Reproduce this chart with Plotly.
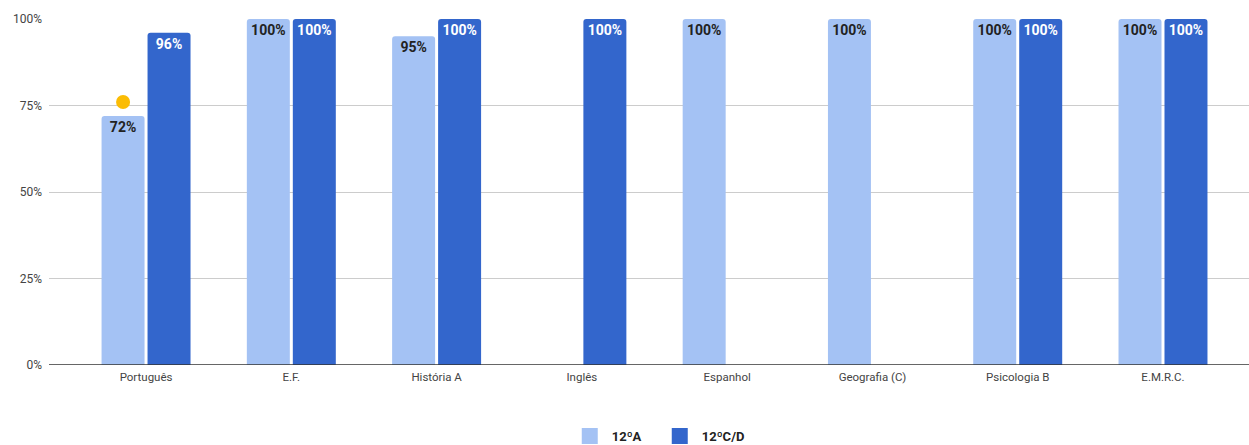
import plotly.graph_objects as go

categories = ["Português", "E.F.", "História A", "Inglês", "Espanhol", "Geografia (C)", "Psicologia B", "E.M.R.C."]
serie_a = [0.72, 1.00, 0.95, None, 1.00, 1.00, 1.00, 1.00]
serie_cd = [0.96, 1.00, 1.00, 1.00, None, None, 1.00, 1.00]
series_names = ["12ºA", "12ºC/D"]
series_colors = ["#a4c2f4", "#3366cc"]
label_colors = ["#222222", "#ffffff"]
marker_point_cat = "Português"
marker_point_val = 0.76
y_ticks = [0, 0.25, 0.5, 0.75, 1.0]
y_tick_labels = ["0%", "25%", "50%", "75%", "100%"]

BARGAP = 0.367
XRANGE = [-0.668, 7.592]

def labels(vals):
    return [("" if v is None else f"{round(v*100)}%") for v in vals]

fig = go.Figure()
for vals, name, col, lcol in zip([serie_a, serie_cd], series_names, series_colors, label_colors):
    fig.add_trace(go.Bar(
        x=categories, y=vals, name=name, showlegend=False,
        marker=dict(color=col, line=dict(width=0)),
        text=labels(vals), textposition="inside", insidetextanchor="end",
        textfont=dict(family="Roboto", size=14, color=lcol, weight="bold"),
        textangle=0,
    ))
# legend entries with larger square swatches
for name, col in zip(series_names, series_colors):
    fig.add_trace(go.Scatter(
        x=[None], y=[None], mode="markers", name=name,
        marker=dict(symbol="square", size=19, color=col),
        xaxis="x2", showlegend=True,
    ))
# point over the first series bar of its category
idx = categories.index(marker_point_cat)
offset = -(1 - BARGAP) / 4
fig.add_trace(go.Scatter(
    x=[idx + offset], y=[marker_point_val], mode="markers",
    marker=dict(color="#fbbc04", size=14),
    showlegend=False, xaxis="x2", yaxis="y",
))

fig.update_layout(
    width=1249, height=445,
    margin=dict(l=49, r=0, t=19, b=80),
    plot_bgcolor="white", paper_bgcolor="white",
    barmode="group", bargap=BARGAP, bargroupgap=0.065,
    barcornerradius=3,
    uniformtext=dict(minsize=8, mode="show"),
    font=dict(family="Roboto", size=12, color="#444444"),
    legend=dict(orientation="h", x=0.4323, xanchor="left",
                yref="container", y=0.02, yanchor="middle",
                font=dict(family="Roboto", size=13, color="#222222", weight="bold"),
                itemsizing="trace", itemwidth=34, entrywidth=41, traceorder="normal"),
    xaxis=dict(range=XRANGE, showgrid=False, ticks="",
               tickfont=dict(size=11.5, color="#444444"), ticklabelstandoff=3,
               showline=False, zeroline=False, automargin=False),
    xaxis2=dict(overlaying="x", range=XRANGE, visible=False, automargin=False),
)
fig.update_yaxes(
    range=[0, 1.0], tickvals=y_ticks, ticktext=y_tick_labels,
    showgrid=True, gridcolor="#cccccc", gridwidth=1,
    zeroline=False, showline=False, ticks="", ticklabelstandoff=6,
    tickfont=dict(size=12, color="#444444"), automargin=False,
)
fig.add_shape(type="line", xref="paper", yref="y", x0=0, x1=1, y0=0, y1=0,
              line=dict(color="#333333", width=1.5))

fig.write_html("out.html", config={"displayModeBar": False},
               post_script="document.body.style.margin='0';")
